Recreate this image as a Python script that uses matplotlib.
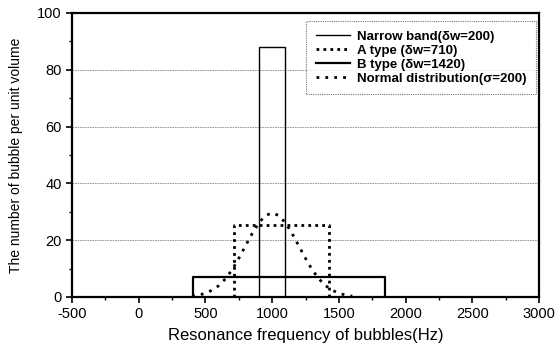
import matplotlib
matplotlib.use("Agg")
import matplotlib.pyplot as plt
from matplotlib.ticker import MultipleLocator

plt.rcParams['font.family'] = ['Liberation Sans', 'DejaVu Sans']
plt.rcParams['axes.unicode_minus'] = False

# Rectangular distributions: (left edge, right edge, height)
narrow_band = (900, 1100, 88)
a_type = (715, 1425, 25.5)
b_type = (410, 1845, 7.0)

# Normal distribution curve
normal_x = [400, 450, 500, 550, 600, 650, 700, 750, 800, 850, 900, 950, 1000,
            1050, 1100, 1150, 1200, 1250, 1300, 1350, 1400, 1450, 1500, 1550, 1600]
normal_y = [0.3, 0.7, 1.3, 2.4, 4.0, 6.4, 9.6, 13.6, 18.0, 22.3, 26.1, 28.7, 29.6,
            28.7, 26.1, 22.3, 18.0, 13.6, 9.6, 6.4, 4.0, 2.4, 1.3, 0.7, 0.3]

labels = ["Narrow band(\u03b4w=200)", "A type (\u03b4w=710)",
          "B type (\u03b4w=1420)", "Normal distribution(\u03c3=200)"]

xticks = [-500, 0, 500, 1000, 1500, 2000, 2500, 3000]
yticks = [0, 20, 40, 60, 80, 100]


def rect(spec):
    l, r, h = spec
    return [l, l, r, r], [0, h, h, 0]


fig = plt.figure(figsize=(5.56, 3.5), dpi=100)
ax = fig.add_axes([72 / 556, 1 - 297 / 350, 467 / 556, 284 / 350])

x, y = rect(narrow_band)
ax.plot(x, y, color='black', lw=1.0, label=labels[0])
x, y = rect(a_type)
ax.plot(x, y, color='black', lw=2.0, ls=(0, (1, 1.5)), label=labels[1])
x, y = rect(b_type)
ax.plot(x, y, color='black', lw=1.6, label=labels[2])
ax.plot(normal_x, normal_y, color='black', lw=2.0, ls=(0, (1, 2.2)), label=labels[3])

ax.set_xlim(-500, 3000)
ax.set_ylim(0, 100)
ax.set_xticks(xticks)
ax.set_yticks(yticks)
ax.xaxis.set_minor_locator(MultipleLocator(250))
ax.yaxis.set_minor_locator(MultipleLocator(10))
ax.tick_params(which='major', direction='out', length=4, width=1.2, labelsize=10.5)
ax.tick_params(which='minor', direction='out', length=2, width=1.0)

for gy in [20, 40, 60, 80]:
    ax.axhline(gy, color='#888888', lw=0.6, ls=(0, (2, 1)), zorder=0)

for s in ax.spines.values():
    s.set_linewidth(1.6)

ax.set_xlabel("Resonance frequency of bubbles(Hz)", fontsize=12, labelpad=5)
ax.set_ylabel("The number of bubble per unit volume", fontsize=10, labelpad=10)

leg = ax.legend(loc='upper right', bbox_to_anchor=(0.994, 0.972),
                prop={'weight': 'bold', 'size': 9.5}, handlelength=2.6,
                fancybox=False, borderaxespad=0, labelspacing=0.12,
                borderpad=0.75, handletextpad=0.5)
frame = leg.get_frame()
frame.set_edgecolor('#555555')
frame.set_linestyle((0, (1, 1)))
frame.set_linewidth(0.8)

fig.savefig("out.png", dpi=100)
